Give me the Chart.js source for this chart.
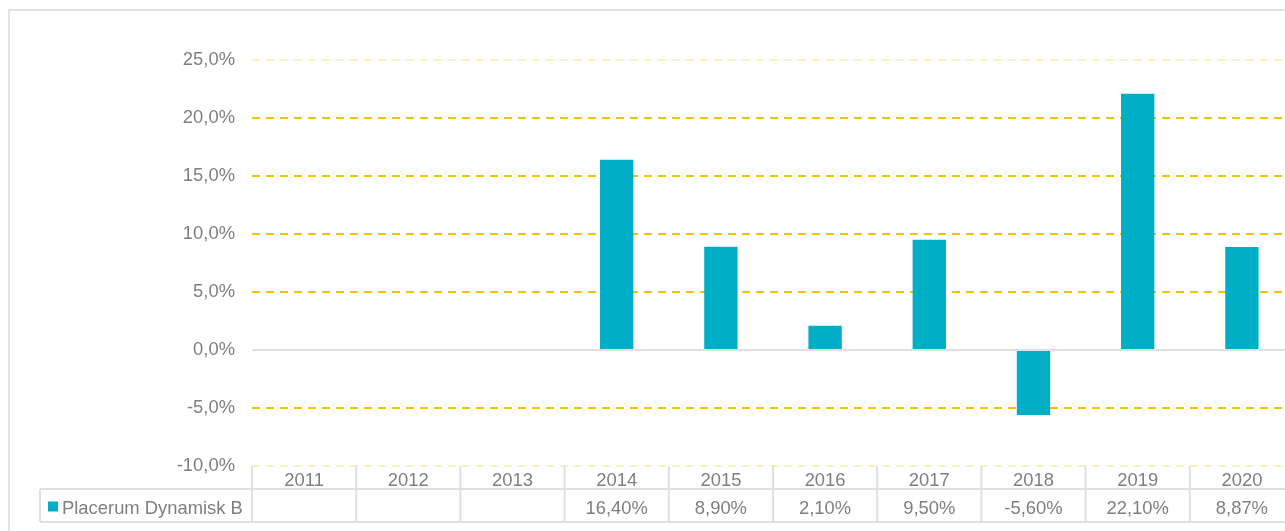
<!DOCTYPE html>
<html>
<head>
<meta charset="utf-8">
<script src="https://cdn.jsdelivr.net/npm/chart.js@4"></script>
<style>
    html, body { margin: 0; padding: 0; background: #fff; overflow: hidden; }
    #frame {
        position: absolute; left: 8px; top: 9px; width: 1400px; height: 600px;
        border: 2px solid #e3e3e3; box-sizing: border-box;
    }
    #wrap { position: absolute; left: 0; top: 0; width: 1300px; height: 531px; }
</style>
</head>
<body>
<div id="frame"></div>
<div id="wrap"><canvas id="chart"></canvas></div>
<script>
// Data
const years = ['2011', '2012', '2013', '2014', '2015', '2016', '2017', '2018', '2019', '2020'];
const seriesName = 'Placerum Dynamisk B';
const returns = [null, null, null, 16.40, 8.90, 2.10, 9.50, -5.60, 22.10, 8.87];
const yMin = -10, yMax = 25, yStep = 5;

const textColor = '#7f7f7f';
const barColor = '#00aec6';
const gridYellow = '#f0c400';
const lineGray = '#e0e0e0';
const fontFamily = '"Liberation Sans", Arial, sans-serif';
const fontSize = 18.4;

function pct(v, digits) {
    return v.toFixed(digits).replace('.', ',') + '%';
}

// Data table under the plot, like Excel's chart data table
const dataTable = {
    id: 'dataTable',
    afterDraw(chart) {
        const ctx = chart.ctx;
        const x = chart.scales.x;
        const area = chart.chartArea;
        const colW = (area.right - area.left) / years.length;
        const top = area.bottom;
        const mid = top + 23;
        const bottom = top + 56;
        const legendLeft = 40;

        ctx.save();
        ctx.strokeStyle = lineGray;
        ctx.lineWidth = 2;
        ctx.beginPath();
        // horizontal lines
        ctx.moveTo(legendLeft, mid); ctx.lineTo(area.right + 10, mid);
        ctx.moveTo(legendLeft, bottom); ctx.lineTo(area.right + 10, bottom);
        // vertical lines
        for (let i = 0; i <= years.length; i++) {
            const px = area.left + i * colW;
            ctx.moveTo(px, top); ctx.lineTo(px, bottom);
        }
        ctx.moveTo(legendLeft, mid); ctx.lineTo(legendLeft, bottom);
        ctx.stroke();

        ctx.font = fontSize + 'px ' + fontFamily;
        ctx.fillStyle = textColor;
        ctx.textBaseline = 'middle';
        ctx.textAlign = 'center';
        years.forEach((yr, i) => {
            const cx = x.getPixelForValue(i);
            ctx.fillText(yr, cx, (top + mid) / 2 + 3);
            if (returns[i] !== null) {
                ctx.fillText(pct(returns[i], 2), cx, (mid + bottom) / 2 + 3);
            }
        });

        // legend key + series name
        ctx.fillStyle = barColor;
        ctx.fillRect(48, (mid + bottom) / 2 - 4, 10, 10);
        ctx.fillStyle = textColor;
        ctx.textAlign = 'left';
        ctx.fillText(seriesName, 62, (mid + bottom) / 2 + 3);
        ctx.restore();
    }
};

function gridColor(ctx) {
    const v = ctx.tick ? ctx.tick.value : null;
    if (v === 0) return lineGray;
    if (v === yMax || v === yMin) return 'rgba(240,196,0,0.25)';
    return gridYellow;
}

new Chart(document.getElementById('chart').getContext('2d'), {
    type: 'bar',
    data: {
        labels: years,
        datasets: [{
            label: seriesName,
            data: returns,
            backgroundColor: barColor,
            barPercentage: 0.32,
            categoryPercentage: 1
        }]
    },
    options: {
        responsive: true,
        maintainAspectRatio: false,
        animation: false,
        layout: { padding: { top: 60, right: 6, bottom: 65, left: 0 } },
        plugins: {
            legend: { display: false },
            tooltip: { enabled: false }
        },
        scales: {
            x: { display: false },
            y: {
                min: yMin,
                max: yMax,
                afterFit: s => { s.width = 252; },
                ticks: {
                    stepSize: yStep,
                    padding: 17,
                    color: textColor,
                    font: { family: fontFamily, size: fontSize },
                    callback: v => pct(v, 1)
                },
                grid: {
                    color: gridColor,
                    lineWidth: 2,
                    drawTicks: false
                },
                border: {
                    display: false,
                    dash: ctx => (ctx.tick && ctx.tick.value === 0) ? [] : [8, 6]
                }
            }
        }
    },
    plugins: [dataTable]
});
</script>
</body>
</html>
